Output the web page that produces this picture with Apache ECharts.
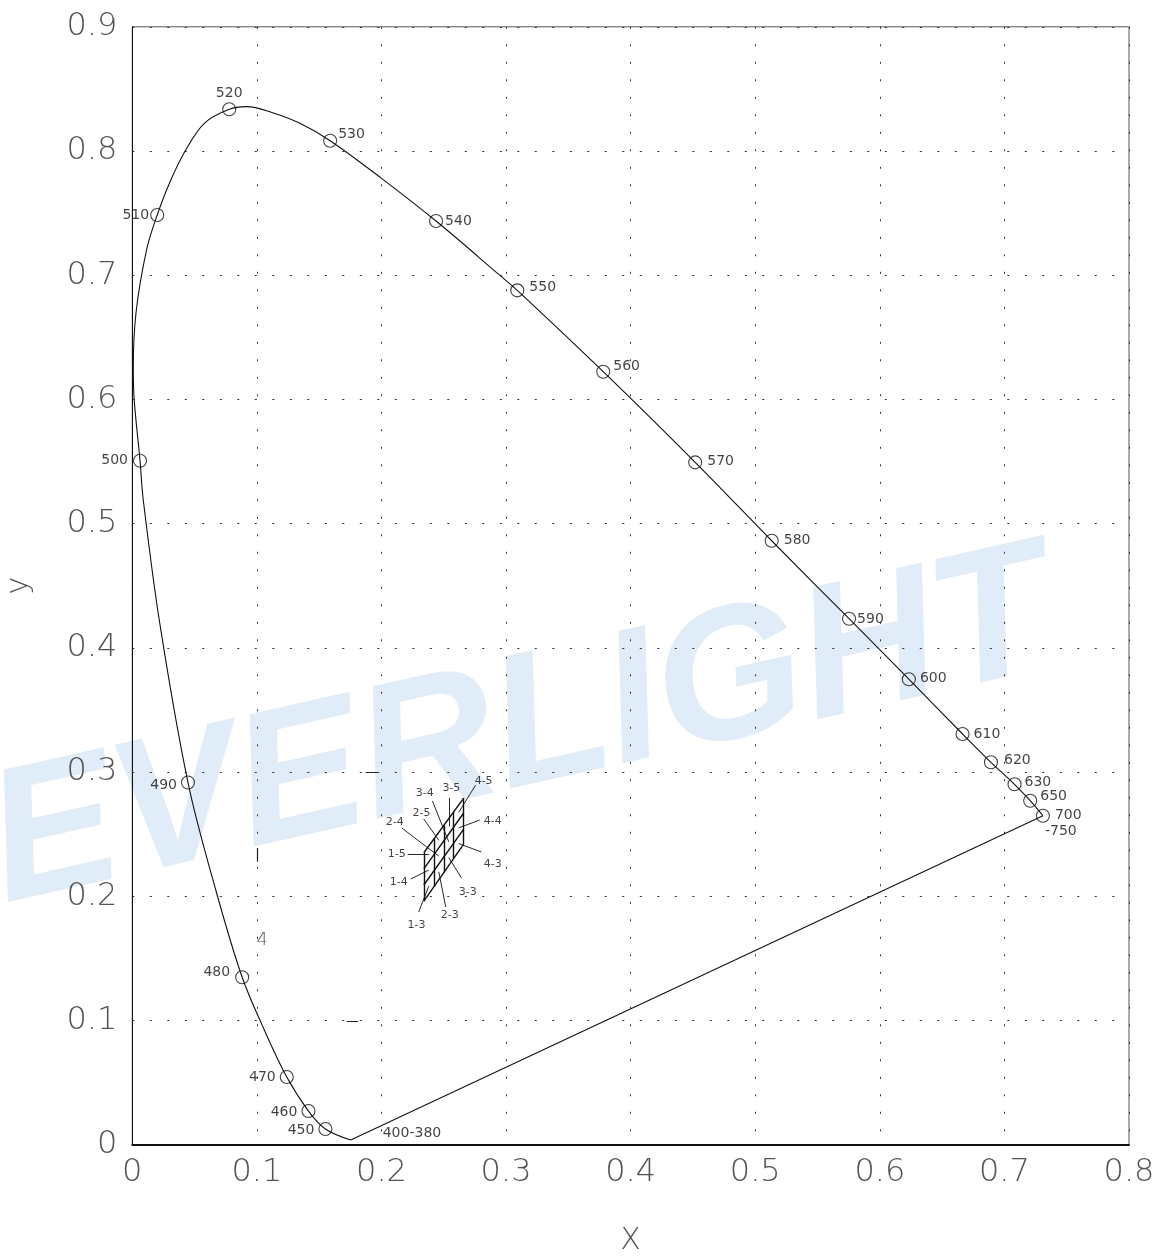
<!DOCTYPE html>
<html><head><meta charset="utf-8">
<script src="https://cdn.jsdelivr.net/npm/echarts@6/dist/echarts.min.js"></script>
<style>html,body{margin:0;padding:0;background:#fff}#c{width:1163px;height:1256px}</style>
</head><body><div id="c"></div>
<script>
// ---- data ----
const xTickLabels = ['0','0.1','0.2','0.3','0.4','0.5','0.6','0.7','0.8'];
const yTickLabels = ['0','0.1','0.2','0.3','0.4','0.5','0.6','0.7','0.8','0.9'];

// spectral locus, from the 380 nm end up to 700 nm
const locusCurve = [
  [0.1753,0.0037],[0.155,0.0126],[0.1414,0.027],[0.124,0.0544],[0.107,0.090],
  [0.0882,0.1347],[0.067,0.205],[0.0447,0.2915],[0.022,0.42],[0.0088,0.519],
  [0.0062,0.5506],[0.0015,0.60],[0.0008,0.625],[0.003,0.67],[0.0115,0.7206],
  [0.020,0.7485],[0.0298,0.7741],[0.0424,0.800],[0.058,0.8225],[0.0778,0.8336],
  [0.0917,0.8357],[0.112,0.831],[0.1345,0.8223],[0.1588,0.8083],[0.200,0.778],[0.2438,0.7436],
  [0.2949,0.700],[0.309,0.6878],[0.378,0.6223],[0.4518,0.5493],[0.5132,0.4862],
  [0.5753,0.4234],[0.6233,0.3747],[0.6664,0.3306],[0.6892,0.3078],[0.7081,0.2901],
  [0.7207,0.2769],[0.7309,0.2648]
];
const markerNames = ['450','460','470','480','490','500','510','520','530','540','550','560','570','580','590','600','610','620','630','650','700'];
const markerPoints = [
  [0.155,0.0126],[0.1414,0.027],[0.124,0.0544],[0.0882,0.1347],[0.0447,0.2915],
  [0.0062,0.5506],[0.020,0.7485],[0.0778,0.8336],[0.1588,0.8083],[0.2438,0.7436],
  [0.309,0.6878],[0.378,0.6223],[0.4518,0.5493],[0.5132,0.4862],[0.5753,0.4234],
  [0.6233,0.3747],[0.6664,0.3306],[0.6892,0.3078],[0.7081,0.2901],[0.7207,0.2769],
  [0.7309,0.2648]
];
const purpleEndLabel = '400-380';
const redEndExtra = '-750';

// bin grid (4 columns x 3 rows)
const binColumnX = [0.234,0.242,0.250,0.258,0.266];
const binRowLinesY = [
  [0.196,0.2075,0.219,0.2305,0.242],
  [0.209,0.220,0.232,0.243,0.254],
  [0.222,0.233,0.244,0.256,0.267],
  [0.235,0.246,0.257,0.268,0.279]
];
const binNames = ['1-3','1-4','1-5','2-3','2-4','2-5','3-3','3-4','3-5','4-3','4-4','4-5'];
const binLabelAt = [
  [0.2281,0.1768],[0.2139,0.2114],[0.2123,0.2340],[0.2548,0.1849],[0.2107,0.2598],[0.2321,0.2670],
  [0.2692,0.2034],[0.2347,0.2831],[0.2561,0.2871],[0.2893,0.2259],[0.2893,0.2605],[0.2820,0.2927]
];
const binLeaderFrom = [
  [0.2299,0.1873],[0.2235,0.2139],[0.2211,0.2340],[0.2516,0.1913],[0.2163,0.2549],[0.2339,0.2622],
  [0.2642,0.2147],[0.2409,0.2767],[0.2540,0.2791],[0.2802,0.2356],[0.2788,0.2613],[0.2756,0.2895]
];
// stray marks in the original drawing
const strayText = [['4',[0.1042,0.1648]]];
const straySegments = [
  [[0.172,0.0995],[0.1812,0.0995]],
  [[0.1872,0.300],[0.1968,0.300]],
  [[0.100,0.2388],[0.100,0.2278]]
];

// ---- layout / style ----
const markerLabelLayout = [
  ['left',4,[0,1]],['left',4,[0,1]],['left',4,[0,0]],['left',5,[0,-5]],['left',4,[0,3]],
  ['left',5,[0,0]],['left',1,[0,0]],['top',2,[0,0]],['right',1,[0,-6]],['right',2,[0,0]],
  ['right',5,[0,-3]],['right',3,[0,-5]],['right',5,[0,-1]],['right',5,[0,0]],['right',1,[0,1]],
  ['right',4,[0,-1]],['right',4,[0,0]],['right',6,[0,-2]],['right',3,[0,-2]],['right',3,[0,-4]],
  ['right',0,[-5,8]]
];
const FONT = '"DejaVu Sans", sans-serif';

const markerData = markerPoints.map((p,i)=>{
  const [pos,dist,off] = markerLabelLayout[i];
  const item = {name: markerNames[i], value: p, label:{position:pos, distance:dist, offset:off}};
  if (markerNames[i]==='700') {
    item.label.formatter = '{a|700}\n{b|'+redEndExtra+'}';
    item.label.rich = {a:{padding:[0,0,0,10],fontSize:14,fontFamily:FONT,color:'#111',lineHeight:16},
                       b:{fontSize:14,fontFamily:FONT,color:'#111',lineHeight:16}};
  }
  return item;
});

// bin grid segments
const binSegs = [];
for (let r=0;r<binRowLinesY.length;r++) {
  binSegs.push({coords:[[binColumnX[0],binRowLinesY[r][0]],[binColumnX[4],binRowLinesY[r][4]]]});
}
for (let c=0;c<binColumnX.length;c++) {
  binSegs.push({coords:[[binColumnX[c],binRowLinesY[0][c]],[binColumnX[c],binRowLinesY[3][c]]]});
}
// leader lines to cell centres
const leaderSegs = binNames.map((n,i)=>{
  const col = parseInt(n[0])-1, row = parseInt(n[2])-3;
  const cx = (binColumnX[col]+binColumnX[col+1])/2;
  const cy = (binRowLinesY[row][col]+binRowLinesY[row][col+1]+binRowLinesY[row+1][col]+binRowLinesY[row+1][col+1])/4;
  return {coords:[binLeaderFrom[i],[cx,cy]]};
});

const chart = echarts.init(document.getElementById('c'));
chart.setOption({
  animation:false,
  backgroundColor:'#fff',
  grid:{left:132.3,right:34,top:26.8,bottom:111.4,show:true,borderColor:'#555',borderWidth:1,
    containLabel:false,outerBoundsMode:'none'},
  graphic:[{
    type:'text', z:-10, x:14, y:944, rotation:0.222,
    style:{text:'EVERLIGHT', font:'italic bold 189px "Liberation Sans", Arial, sans-serif',
      fill:'#e0ecf7', textVerticalAlign:'bottom', verticalAlign:'bottom'}
  }],
  xAxis:{
    type:'value',min:0,max:0.8,interval:0.1,
    name:'X',nameLocation:'middle',nameGap:82,
    nameTextStyle:{fontSize:30,color:'#555',fontFamily:FONT,fontWeight:200},
    axisLine:{show:true,lineStyle:{color:'#111',width:2}},
    axisTick:{show:false},
    axisLabel:{margin:12,fontSize:32,color:'#555',fontFamily:FONT,fontWeight:200,
      formatter:(v)=>xTickLabels[Math.round(v*10)]},
    splitLine:{show:true,lineStyle:{color:'#333',width:1,type:[2,15.5]}}
  },
  yAxis:{
    type:'value',min:0,max:0.9,interval:0.1,
    name:'y',nameLocation:'middle',nameGap:98,nameRotate:90,
    nameTextStyle:{fontSize:30,color:'#555',fontFamily:FONT,fontWeight:200},
    axisLine:{show:true,lineStyle:{color:'#111',width:1}},
    axisTick:{show:false},
    axisLabel:{margin:15,fontSize:32,color:'#555',fontFamily:FONT,fontWeight:200,
      formatter:(v)=>yTickLabels[Math.round(v*10)]},
    splitLine:{show:true,lineStyle:{color:'#333',width:1,type:[2,15.5]}}
  },
  series:[
    {type:'line',name:'locus',data:locusCurve,smooth:0.35,symbol:'none',z:3,
      lineStyle:{color:'#111',width:1.1}},
    {type:'line',name:'purple',data:[locusCurve[0],locusCurve[locusCurve.length-1]],symbol:'none',z:3,
      lineStyle:{color:'#111',width:1.1}},
    {type:'scatter',name:'markers',data:markerData,symbol:'circle',symbolSize:13,z:4,
      itemStyle:{color:'rgba(0,0,0,0)',borderColor:'#111',borderWidth:1.1},
      label:{show:true,formatter:'{b}',fontSize:14,fontFamily:FONT,color:'#111'}},
    {type:'scatter',name:'endLabel',data:[{name:purpleEndLabel,value:locusCurve[0]}],symbolSize:0,z:4,
      label:{show:true,formatter:'{b}',position:'right',distance:32,offset:[0,-7],fontSize:14,fontFamily:FONT,color:'#111'}},
    {type:'lines',coordinateSystem:'cartesian2d',name:'binGrid',data:binSegs,z:4,
      lineStyle:{color:'#111',width:1.4,opacity:1}},
    {type:'lines',coordinateSystem:'cartesian2d',name:'leaders',data:leaderSegs,z:4,
      lineStyle:{color:'#111',width:0.9,opacity:1}},
    {type:'scatter',name:'binLabels',data:binNames.map((n,i)=>({name:n,value:binLabelAt[i]})),symbolSize:0,z:4,
      label:{show:true,formatter:'{b}',position:'inside',fontSize:11,fontFamily:FONT,color:'#111'}},
    {type:'scatter',name:'stray',data:strayText.map(t=>({name:t[0],value:t[1]})),symbolSize:0,z:4,
      label:{show:true,formatter:'{b}',position:'inside',fontSize:18,fontFamily:FONT,fontWeight:200,color:'#222'}},
    {type:'lines',coordinateSystem:'cartesian2d',name:'straySegs',data:straySegments.map(s=>({coords:s})),z:4,
      lineStyle:{color:'#222',width:1.2,opacity:1}}
  ]
});
</script></body></html>
